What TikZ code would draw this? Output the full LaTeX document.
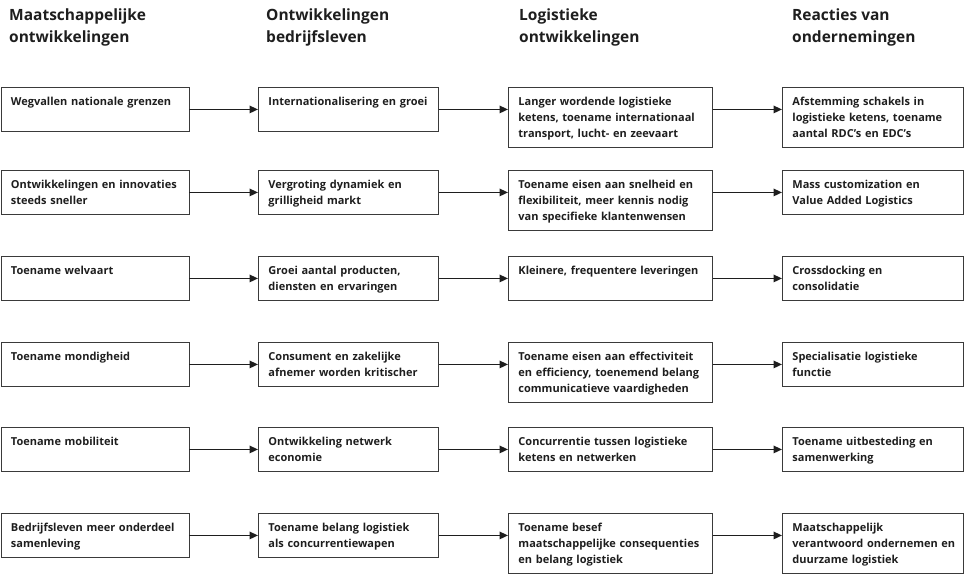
\documentclass[tikz,border=0pt]{standalone}
\usepackage{fontspec}
\setmainfont{Open Sans}
\usetikzlibrary{positioning,arrows.meta}
\definecolor{boxline}{HTML}{3A3A3A}
\definecolor{ink}{HTML}{1E1E1E}

\begin{document}
\begin{tikzpicture}[x=1pt,y=1pt,
  head/.style={anchor=north west,inner sep=0pt,align=left,text=ink,font=\bfseries\fontsize{15.5}{21.5}\selectfont},
  box/.style={draw=boxline,line width=0.9pt,anchor=north west,align=left,text=ink,inner xsep=10pt,inner ysep=6.5pt,text height=12pt,text depth=19pt,font=\bfseries\fontsize{11}{16}\selectfont},
  tall/.style={text depth=35pt},
  wide/.style={text width=168pt},
  mid/.style={text width=160pt},
  big/.style={text width=184pt},
  last/.style={text width=161pt},
  arr/.style={line width=1.6pt,draw=ink,-{Triangle[length=8.5pt,width=7.5pt]}}]
\useasboundingbox (0,0) rectangle (965,-575);
% column headers
\node[head] (h1) at (9,-9) {Maatschappelijke\\ontwikkelingen};
\node[head] (h2) at (266,-9) {Ontwikkelingen\\bedrijfsleven};
\node[head] (h3) at (519,-9) {Logistieke\\ontwikkelingen};
\node[head] (h4) at (792,-9) {Reacties van\\ondernemingen};
% maatschappelijke ontwikkelingen
\node[box,wide] (m1) at (0.5,-87) {Wegvallen nationale grenzen};
\node[box,wide] (m2) at (0.5,-170) {\mbox{Ontwikkelingen en innovaties}\\steeds sneller};
\node[box,wide] (m3) at (0.5,-256) {Toename welvaart};
\node[box,wide] (m4) at (0.5,-342) {Toename mondigheid};
\node[box,wide] (m5) at (0.5,-427) {Toename mobiliteit};
\node[box,wide] (m6) at (0.5,-513) {\mbox{Bedrijfsleven meer onderdeel}\\samenleving};
% ontwikkelingen bedrijfsleven
\node[box,mid] (b1) at (258,-87) {Internationalisering en groei};
\node[box,mid] (b2) at (258,-170) {Vergroting dynamiek en\\grilligheid markt};
\node[box,mid] (b3) at (258,-256) {Groei aantal producten,\\diensten en ervaringen};
\node[box,mid] (b4) at (258,-342) {Consument en zakelijke\\\mbox{afnemer worden kritischer}};
\node[box,mid] (b5) at (258,-427) {Ontwikkeling netwerk\\economie};
\node[box,mid] (b6) at (258,-513) {Toename belang logistiek\\als concurrentiewapen};
% logistieke ontwikkelingen
\node[box,big,tall] (l1) at (508,-87) {Langer wordende logistieke\\\mbox{ketens, toename internationaal}\\transport, lucht- en zeevaart};
\node[box,big,tall] (l2) at (508,-170) {\mbox{Toename eisen aan snelheid en}\\\mbox{flexibiliteit, meer kennis nodig}\\van specifieke klantenwensen};
\node[box,big] (l3) at (508,-256) {Kleinere, frequentere leveringen};
\node[box,big,tall] (l4) at (508,-342) {\mbox{Toename eisen aan effectiviteit}\\\mbox{en efficiency, toenemend belang}\\communicatieve vaardigheden};
\node[box,big] (l5) at (508,-427) {\mbox{Concurrentie tussen logistieke}\\ketens en netwerken};
\node[box,big,tall] (l6) at (508,-513) {Toename besef\\\mbox{maatschappelijke consequenties}\\en belang logistiek};
% reacties van ondernemingen
\node[box,last,tall] (r1) at (782,-87) {Afstemming schakels in\\\mbox{logistieke ketens, toename}\\aantal RDC’s en EDC’s};
\node[box,last] (r2) at (782,-170) {Mass customization en\\Value Added Logistics};
\node[box,last] (r3) at (782,-256) {Crossdocking en\\consolidatie};
\node[box,last] (r4) at (782,-342) {Specialisatie logistieke\\functie};
\node[box,last] (r5) at (782,-427) {Toename uitbesteding en\\samenwerking};
\node[box,last,tall] (r6) at (782,-513) {Maatschappelijk\\\mbox{verantwoord ondernemen en}\\duurzame logistiek};
\foreach \i in {1,...,6}{
  \draw[arr] (m\i.east) -- (b\i.west);
  \draw[arr] (b\i.east) -- (b\i.east -| l\i.west);
  \draw[arr] (b\i.east -| l\i.east) -- (b\i.east -| r\i.west);
}
\end{tikzpicture}
\end{document}
